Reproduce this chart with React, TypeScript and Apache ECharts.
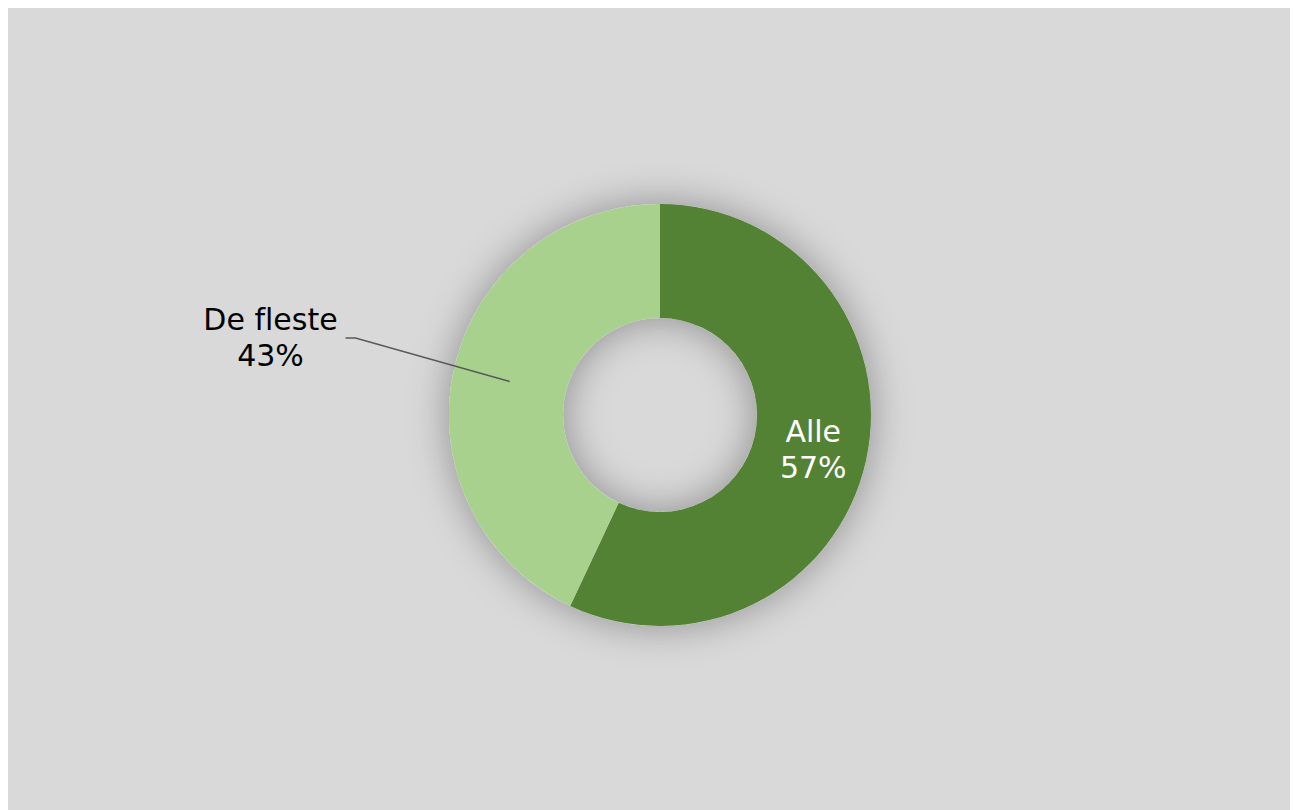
import React, { useEffect, useRef } from "react";
import * as echarts from "echarts";

const categories = ["Alle", "De fleste"];
const values = [57, 43];
const colors = ["#548235", "#a9d18e"];

export default function App() {
  const ref = useRef<HTMLDivElement>(null);
  useEffect(() => {
    document.documentElement.style.overflow = "hidden";
    document.body.style.overflow = "hidden";
    const chart = echarts.init(ref.current!, null, { renderer: "svg" });
    const font = "'DejaVu Sans', Verdana, sans-serif";
    const data = categories.map((name, i) => ({ name, value: values[i] }));
    const total = values.reduce((a, b) => a + b, 0);
    chart.setOption({
      animation: false,
      backgroundColor: "#d9d9d9",
      series: [
        {
          type: "pie",
          center: [652, 407],
          radius: [97, 211],
          silent: true,
          z: 1,
          emphasis: { disabled: true },
          label: { show: false },
          labelLine: { show: false },
          data: [
            {
              name: "shadow",
              value: total,
              itemStyle: {
                color: "#d9d9d9",
                shadowBlur: 40,
                shadowColor: "rgba(0,0,0,0.35)",
              },
            },
          ],
        },
        {
          type: "pie",
          center: [652, 407],
          radius: [97, 211],
          startAngle: 90,
          clockwise: true,
          silent: true,
          z: 2,
          emphasis: { disabled: true },
          data: data.map((d, i) => ({
            ...d,
            itemStyle: { color: colors[i] },
            label:
              i === 0
                ? {
                    show: true,
                    position: "inside",
                    formatter: "{b}\n{c}%",
                    color: "#ffffff",
                    fontSize: 30,
                    lineHeight: 36,
                    fontFamily: font,
                  }
                : { show: false },
            labelLine: { show: false },
          })),
        },
        {
          type: "pie",
          center: [652, 407],
          radius: [0, 154],
          startAngle: 90,
          clockwise: true,
          silent: true,
          z: 5,
          emphasis: { disabled: true },
          itemStyle: { color: "rgba(0,0,0,0)" },
          labelLayout: (params: any) => {
            const pts = params.labelLinePoints;
            if (params.dataIndex !== 1 || !pts) return {};
            const shift = -9;
            return {
              dy: shift,
              labelLinePoints: [
                pts[0],
                [pts[1][0], pts[1][1] + shift],
                [pts[2][0], pts[2][1] + shift],
              ],
            };
          },
          data: data.map((d, i) => ({
            ...d,
            label:
              i === 1
                ? {
                    show: true,
                    position: "outside",
                    formatter: "{a|{b}}\n{a|{c}%}",
                    distanceToLabelLine: 5,
                    rich: {
                      a: {
                        color: "#000000",
                        fontSize: 30,
                        lineHeight: 36,
                        fontFamily: font,
                        width: 140,
                        align: "center",
                      },
                    },
                  }
                : { show: false },
            labelLine:
              i === 1
                ? {
                    show: true,
                    showAbove: true,
                    length: 158,
                    length2: 10,
                    lineStyle: { color: "#595959", width: 1.5 },
                  }
                : { show: false },
          })),
        },
      ],
    });
    return () => chart.dispose();
  }, []);
  return (
    <div
      ref={ref}
      style={{ width: 1290, height: 802, fontVariantLigatures: "none" }}
    />
  );
}
